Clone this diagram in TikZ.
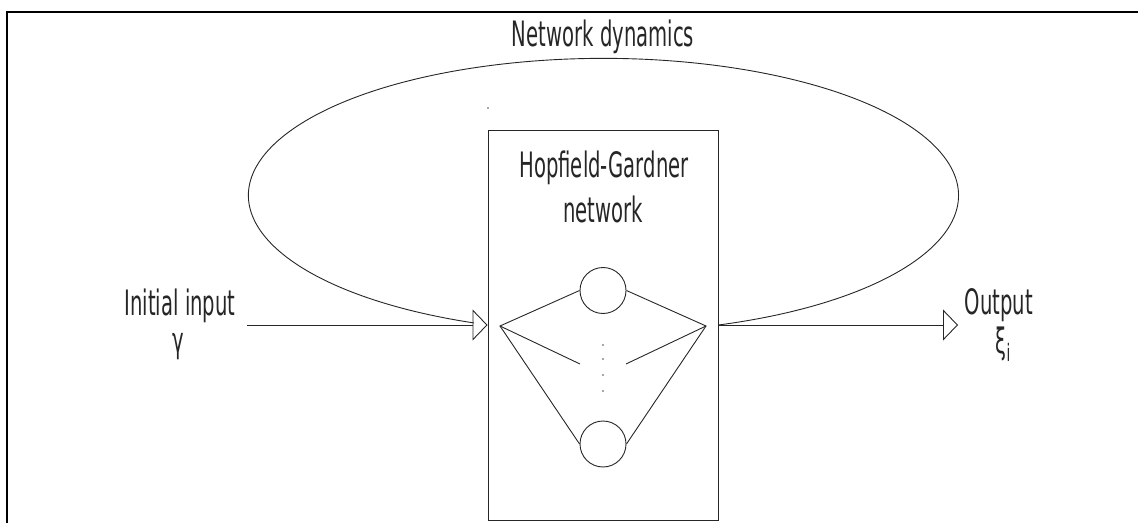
\documentclass[tikz,border=0pt]{standalone}
\usepackage{fontspec}
\newfontfamily\cadfont[FakeStretch=0.56]{DejaVu Sans}
\usetikzlibrary{arrows.meta}
\begin{document}
\begin{tikzpicture}[x=1pt,y=1pt,
  line/.style={line width=0.9pt,draw=black!85},
  lbl/.style={font=\cadfont\fontsize{35}{40}\selectfont, inner sep=0pt, text=black!85},
  openhead/.style={-{Triangle[open,length=15pt,width=31pt,line width=0.9pt]}},
  neuron/.style={draw=black!85,circle,minimum size=46pt,inner sep=0pt,line width=0.9pt},
  dotnode/.style={circle,fill=black!70,inner sep=0pt,minimum size=1.6pt}]
\useasboundingbox (0,0) rectangle (1138,523);
% outer frame
\coordinate (fb) at (7,0);
\coordinate (fc) at (7,511);
\coordinate (fr) at (1138,511);
\draw[line width=2pt] (fb) -- (fc) -- (fr);
% network box
\node[draw=black!85,line width=0.9pt,minimum width=230pt,minimum height=390pt,inner sep=0pt] (box) at (603,198) {};
% labels
\node[lbl,anchor=base] (nd) at (603,476) {Network dynamics};
\node[lbl,anchor=base] (hg) at (604,345) {Hopfield-Gardner};
\node[lbl,anchor=base] (nw) at (603,300) {network};
\node[lbl,anchor=base] (ii) at (180,208) {Initial input};
\node[lbl] (gam) at (178,176) {γ};
\node[lbl,anchor=base] (out) at (999,209) {Output};
\node[lbl] (xi) at (1003,179) {ξ\raisebox{-8pt}{\fontsize{24}{24}\selectfont i}};
% input and output arrows
\coordinate (inL) at (247,198);
\coordinate (outR) at (958,198);
\draw[line,openhead] (inL) -- (box.west);
\draw[line,openhead] (box.east) -- (outR);
% feedback loop
\draw[line] (box.east) arc[start angle=-71.1, end angle=248.6, x radius=355, y radius=137];
% neurons
\node[neuron] (n1) at (603,232.5) {};
\node[neuron] (n2) at (603,79) {};
\coordinate (vl) at (500,197);
\coordinate (vr) at (706,197);
\coordinate (ml) at (580,159);
\coordinate (mr) at (626,159);
\draw[line] (n1.west) -- (vl) -- (n2.west);
\draw[line] (vl) -- (ml);
\draw[line] (n1.east) -- (vr) -- (n2.east);
\draw[line] (vr) -- (mr);
\node[dotnode] (d1) at (603,178) {};
\node[dotnode] (d2) at (603,164) {};
\node[dotnode] (d3) at (603,148) {};
\node[dotnode] (d4) at (603,132) {};
\node[dotnode] (stray) at (488,415) {};
\end{tikzpicture}
\end{document}
